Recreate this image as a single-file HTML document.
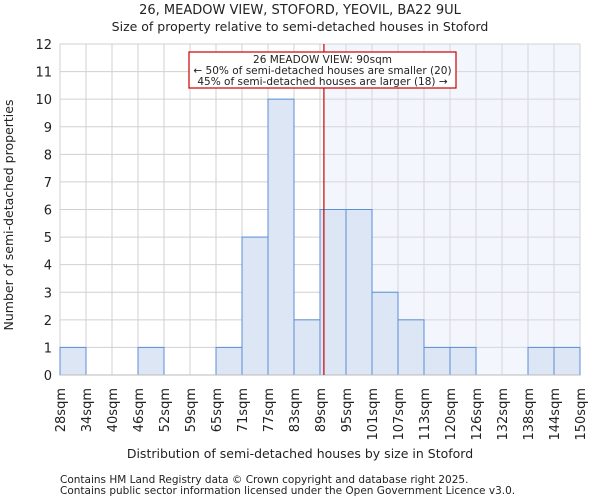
<!DOCTYPE html>
<html><head><meta charset="utf-8"><style>
body{margin:0;background:#fff;font-family:"DejaVu Sans","Liberation Sans",sans-serif;}
svg text{font-family:"DejaVu Sans","Liberation Sans",sans-serif;fill:#222;}
</style></head><body>
<svg id="chart" width="600" height="500" viewBox="0 0 600 500" xmlns="http://www.w3.org/2000/svg">
<text x="300" y="14" text-anchor="middle" font-size="13">26, MEADOW VIEW, STOFORD, YEOVIL, BA22 9UL</text>
<text x="300" y="31" text-anchor="middle" font-size="12.5">Size of property relative to semi-detached houses in Stoford</text>
<g id="grid"></g><g id="shade"></g><g id="bars"></g><g id="axes"></g>
<text x="300" y="458" text-anchor="middle" font-size="12.5">Distribution of semi-detached houses by size in Stoford</text>
<text transform="translate(13,215) rotate(-90)" text-anchor="middle" font-size="12.5">Number of semi-detached properties</text>
<text x="60" y="483" font-size="10.5" fill="#444">Contains HM Land Registry data © Crown copyright and database right 2025.</text>
<text x="60" y="494" font-size="10.5" fill="#444">Contains public sector information licensed under the Open Government Licence v3.0.</text>
</svg>
<script>
const binLabels=["28sqm","34sqm","40sqm","46sqm","52sqm","59sqm","65sqm","71sqm","77sqm","83sqm","89sqm","95sqm","101sqm","107sqm","113sqm","120sqm","126sqm","132sqm","138sqm","144sqm","150sqm"];
const counts=[1,0,0,1,0,0,1,5,10,2,6,6,3,2,1,1,0,0,1,1];
const yTicks=[0,1,2,3,4,5,6,7,8,9,10,11,12];
const subjectBin=10.15;
const NS="http://www.w3.org/2000/svg";
const L=60,R=580,T=44,B=375,ymax=12;
const bw=(R-L)/counts.length;
const xs=i=>L+i*bw;
const ys=v=>B-(v/ymax)*(B-T);
function mk(p,tag,a){const e=document.createElementNS(NS,tag);for(const k in a)e.setAttribute(k,a[k]);document.getElementById(p).appendChild(e);return e;}
for(let i=0;i<=counts.length;i++){const g=mk('grid','line',{x1:xs(i),x2:xs(i),y1:T,y2:B,stroke:'#d0d0d0'});

}
yTicks.forEach(t=>{const g=mk('grid','line',{x1:L,x2:R,y1:ys(t),y2:ys(t),stroke:'#d0d0d0'});


const tx=mk('axes','text',{x:L-8,y:ys(t)+5,'text-anchor':'end','font-size':13});tx.textContent=t;

});
const sx=xs(subjectBin);
const sh=mk('shade','rect',{x:sx,y:T,width:R-sx,height:B-T,fill:'#dde6f7','fill-opacity':0.35});


counts.forEach((c,i)=>{if(c<=0)return;const r=mk('bars','rect',{x:xs(i),y:ys(c),width:bw,height:B-ys(c),fill:'#dce6f4',stroke:'#5b8fd6','stroke-width':1});

});
binLabels.forEach((lb,i)=>{const x=xs(i);const t=mk('axes','text',{transform:`translate(${x+5},388) rotate(-90)`,'text-anchor':'end','font-size':13});t.textContent=lb;

});
const ax=mk('axes','line',{x1:L,x2:R,y1:B,y2:B,stroke:'#bbb'});


const ln=mk('axes','line',{x1:sx,x2:sx,y1:T,y2:B,stroke:'#cc0000','stroke-width':1.2});


const box=mk('axes','rect',{x:189,y:52,width:267,height:36,fill:'#fff',stroke:'#cc0000','stroke-width':1.2});


["26 MEADOW VIEW: 90sqm","← 50% of semi-detached houses are smaller (20)","45% of semi-detached houses are larger (18) →"].forEach((s,k)=>{const t=mk('axes','text',{x:322.5,y:63+k*11,'text-anchor':'middle','font-size':10.5});t.textContent=s;

});
</script>
</body></html>
